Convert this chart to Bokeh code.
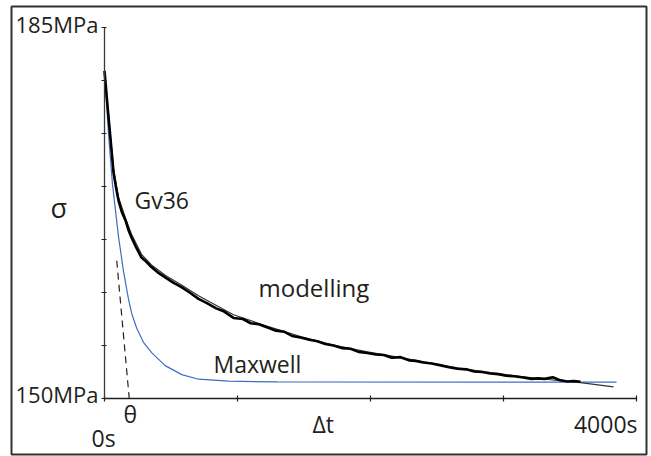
from bokeh.plotting import figure
from bokeh.models import Range1d, LinearAxis, FixedTicker, Label
from bokeh.embed import file_html
from bokeh.resources import INLINE

# ---------------- data ----------------
# measured relaxation curve of sample Gv36: time [s], stress [MPa]
measured_t = [0, 22, 43, 68, 88, 105, 130, 158, 180, 203, 240, 278, 315, 353, 400,
              459, 520, 579, 640, 707, 770, 840, 900, 970, 1040, 1100, 1160, 1226,
              1290, 1350, 1410, 1474, 1540, 1600, 1660, 1722, 1790, 1850, 1910, 1977,
              2040, 2100, 2160, 2226, 2290, 2340, 2398, 2460, 2520, 2590, 2654, 2720,
              2780, 2840, 2902, 2960, 3020, 3080, 3150, 3210, 3260, 3310, 3370, 3420,
              3480, 3530, 3579]
measured_sigma = [180.9, 177.7, 174.8, 171.3, 169.8, 168.7, 167.6, 166.8, 165.9, 165.2,
                  164.2, 163.3, 162.9, 162.4, 161.9, 161.4, 160.9, 160.5, 160.0, 159.4,
                  159.0, 158.5, 158.2, 157.6, 157.5, 157.1, 157.0, 156.7, 156.4, 156.3,
                  155.9, 155.75, 155.55, 155.4, 155.15, 155.0, 154.75, 154.7, 154.4,
                  154.3, 154.15, 154.1, 153.85, 153.9, 153.6, 153.55, 153.4, 153.3,
                  153.15, 152.95, 152.8, 152.75, 152.55, 152.5, 152.36, 152.3, 152.15,
                  152.1, 151.98, 151.85, 151.9, 151.85, 152.0, 151.75, 151.6, 151.65,
                  151.58]

# modelling curve
model_t = [0, 43, 68, 105, 158, 203, 278, 353, 459, 579, 707, 970, 1226, 1474, 1722,
           1977, 2226, 2398, 2654, 2902, 3150, 3406, 3579, 3827]
model_sigma = [180.9, 175.0, 171.7, 169.0, 167.0, 165.5, 163.6, 162.6, 161.6, 160.7,
               159.7, 157.9, 156.8, 155.85, 155.05, 154.4, 153.85, 153.45, 152.9,
               152.45, 152.05, 151.7, 151.5, 151.1]

# Maxwell curve
maxwell_t = [0, 30, 60, 105, 143, 180, 205, 243, 293, 356, 456, 581, 707, 932, 1300, 3850]
maxwell_sigma = [180.9, 175.0, 170.2, 165.3, 162.0, 159.4, 158.0, 156.6, 155.3, 154.3,
                 153.1, 152.25, 151.82, 151.63, 151.56, 151.55]

# tangent (dashed) reaching 150 MPa at theta
tangent_t = [92, 186]
tangent_sigma = [163.0, 150.0]

y_ticks = [150, 155, 160, 165, 170, 175, 180, 185]
y_tick_labels = ["150MPa", "185MPa"]
x_ticks = [0, 1000, 2000, 3000, 4000]
x_tick_labels = ["0s", "4000s"]

# ---------------- layout ----------------
W, H = 651, 456
FL, FR, FT, FB = 11, 646, 6, 454          # frame edges in canvas pixels
X0_PX, Y0_PX = 104, 398                   # pixel of (0 s, 150 MPa)
PX_PER_S = 0.133
PX_PER_MPA = 10.6
TEXT_SHIFT = 10                           # label baseline correction (px)


def dx(px):
    return (px - X0_PX) / PX_PER_S


def dy(py):
    return 150 + (Y0_PX - py) / PX_PER_MPA


INK = "#231f20"
FONT = "Open Sans"

p = figure(width=W, height=H,
           x_range=Range1d(dx(FL), dx(FR)), y_range=Range1d(dy(FB), dy(FT)),
           x_axis_location=None, y_axis_location=None,
           toolbar_location=None, output_backend="svg",
           min_border_left=FL, min_border_right=W - FR,
           min_border_top=FT, min_border_bottom=H - FB)
p.xgrid.visible = False
p.ygrid.visible = False
p.outline_line_color = "#333333"
p.outline_line_width = 2
p.background_fill_color = "white"
p.border_fill_color = "white"

yaxis = LinearAxis(fixed_location=0, bounds=(150, 185),
                   ticker=FixedTicker(ticks=y_ticks),
                   major_label_overrides={t: "" for t in y_ticks},
                   major_label_text_font_size="0px",
                   major_tick_in=2, major_tick_out=3,
                   minor_tick_line_color=None,
                   axis_line_color="#3a3a3a", axis_line_width=1.3,
                   major_tick_line_color=INK, major_tick_line_width=1.2)
p.add_layout(yaxis, "left")

xaxis = LinearAxis(fixed_location=150, bounds=(0, 4000),
                   ticker=FixedTicker(ticks=x_ticks),
                   major_label_overrides={t: "" for t in x_ticks},
                   major_tick_in=3, major_tick_out=3,
                   minor_tick_line_color=None,
                   axis_line_color=INK, axis_line_width=1.3,
                   major_tick_line_color=INK, major_tick_line_width=1.2,
                   major_label_text_font_size="0px")
p.add_layout(xaxis, "below")

# curves
p.line(maxwell_t, maxwell_sigma, line_color="#3f6dc4", line_width=1.2)
p.line(tangent_t, tangent_sigma, line_color=INK, line_width=1.2, line_dash="7 5")
p.line(model_t, model_sigma, line_color="#333333", line_width=1.2)
p.line(measured_t, measured_sigma, line_color="black", line_width=2.6)

# texts: (text, x px, baseline px, align, size)
labels = [
    (y_tick_labels[1], 98, 33, "right", "22px"),
    (y_tick_labels[0], 98, 403, "right", "22px"),
    ("σ", 50, 217, "left", "27px"),
    ("Gv36", 134, 209, "left", "23px"),
    ("modelling", 258, 297, "left", "24px"),
    ("Maxwell", 213, 373, "left", "23px"),
    ("θ", 123, 423, "left", "23px"),
    ("Δt", 312, 433, "left", "23px"),
    (x_tick_labels[1], 637, 433, "right", "23px"),
    (x_tick_labels[0], 91, 447, "left", "23px"),
]
for txt, px, py, align, size in labels:
    p.add_layout(Label(x=dx(px), y=dy(py - TEXT_SHIFT), text=txt, text_align=align,
                       text_baseline="alphabetic", text_font=FONT,
                       text_font_size=size, text_color=INK))

open("out.html", "w").write(file_html(p, INLINE))
